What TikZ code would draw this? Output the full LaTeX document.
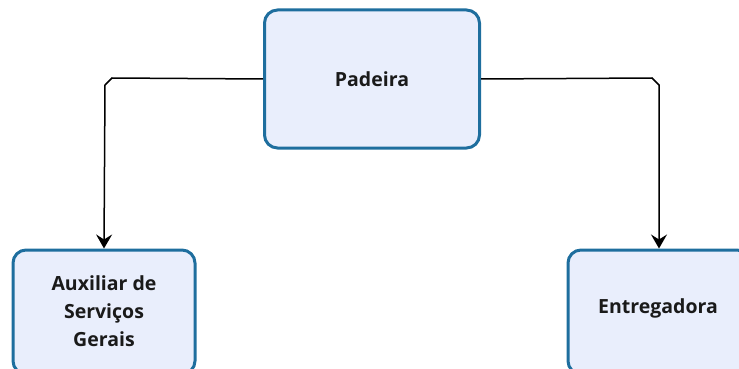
\documentclass[tikz,border=0pt]{standalone}
\usepackage{fontspec}
\setmainfont{Open Sans}
\usetikzlibrary{arrows.meta}
\definecolor{boxfill}{HTML}{E9EEFC}
\definecolor{boxline}{HTML}{1E6E9E}
\definecolor{txt}{HTML}{1A1A1A}
\tikzset{
  labelfont/.style={font=\bfseries\fontsize{19.5}{28}\selectfont, text=txt},
  rolebox/.style={draw=boxline, fill=boxfill, line width=3pt, rounded corners=13pt,
    align=center, labelfont, inner sep=0pt},
  link/.style={line width=1.5pt, draw=black, -{Stealth[length=14pt,width=16pt,inset=5pt]}}
}
\begin{document}
\begin{tikzpicture}[x=1pt,y=-1pt]
\useasboundingbox (0,0) rectangle (739,369);
\clip (0,0) rectangle (739,369);
\node[rolebox, minimum width=215pt, minimum height=138pt] (pad) at (372,79) {Padeira};
\node[rolebox, minimum width=182pt, minimum height=124pt] (aux) at (104,312) {};
\node[labelfont, align=center] (auxl) at (104,311) {Auxiliar de\\Serviços\\Gerais};
\node[rolebox, minimum width=182pt, minimum height=124pt] (ent) at (659,312) {};
\node[labelfont] (entl) at (658,308) {Entregadora};
\coordinate (la) at (112,78);
\coordinate (lb) at (105,85);
\coordinate (ra) at (652,78);
\coordinate (rb) at (659,85);
\draw[link] (pad.west) -- (la) -- (lb) -- (aux.north);
\draw[link] (pad.east) -- (ra) -- (rb) -- (ent.north);
\end{tikzpicture}
\end{document}
